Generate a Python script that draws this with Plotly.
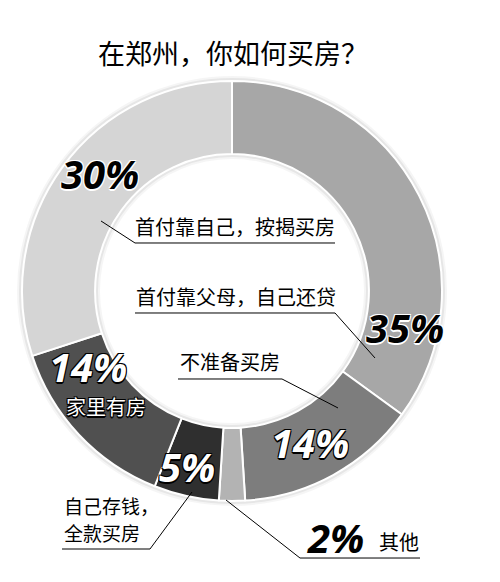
import plotly.graph_objects as go

# data, clockwise from 12 o'clock
categories = ['首付靠父母，自己还贷', '不准备买房', '其他', '自己存钱，全款买房',
              '家里有房', '首付靠自己，按揭买房']
shares = [35, 14, 2, 5, 14, 30]
pct_labels = ['35%', '14%', '2%', '5%', '14%', '30%']

slice_colors = ['#a7a7a7', '#7d7d7d', '#b3b3b3', '#2f2f2f', '#505050', '#d5d5d5']

W, H = 500, 582


def px(x, y):
    # pixel position -> paper coords
    return x / W, 1 - y / H


fig = go.Figure()

# soft shadow ring behind the donut
for grow, alpha in [(5, 0.04), (3, 0.06)]:
    fig.add_trace(go.Pie(
        values=[1], hole=(137 - grow) / (210 + grow), sort=False, showlegend=False,
        marker=dict(colors=[f'rgba(0,0,0,{alpha})'], line=dict(width=0)),
        textinfo='none', hoverinfo='skip',
        domain=dict(x=[(22 - grow) / W, (442 + grow) / W],
                    y=[1 - (501 + grow) / H, 1 - (81 - grow) / H]),
    ))

fig.add_trace(go.Pie(
    labels=categories,
    values=shares,
    sort=False,
    direction='clockwise',
    rotation=0,
    hole=0.652,
    textinfo='none',
    showlegend=False,
    marker=dict(colors=slice_colors, line=dict(color='white', width=2)),
    domain=dict(x=[22 / W, 442 / W], y=[1 - 501 / H, 1 - 81 / H]),
))

black_outline = '-1px -1px 0 #000, 1px -1px 0 #000, -1px 1px 0 #000, 1px 1px 0 #000, 0 2px 0 #000'
white_outline = '-1px -1px 0 #fff, 1px -1px 0 #fff, -1px 1px 0 #fff, 1px 1px 0 #fff, 0 2px 0 #fff'

annos = []


def add_text(txt, x, y, size, color='black', shadow='none', italic=False, bold=False,
             xanchor='center'):
    ax, ay = px(x, y)
    annos.append(dict(
        text=txt, x=ax, y=ay, xref='paper', yref='paper', showarrow=False,
        xanchor=xanchor, yanchor='middle',
        font=dict(family='Open Sans, Noto Sans CJK SC' if italic else 'Noto Sans CJK SC',
                  size=size, color=color, shadow=shadow,
                  style='italic' if italic else 'normal',
                  weight='bold' if bold else 'normal'),
    ))


# title
add_text('在郑州，你如何买房？', 233, 52, 27)

# percentages
add_text(pct_labels[0], 405, 327, 40, 'black', white_outline, True, True)
add_text(pct_labels[1], 310, 442, 40, 'white', black_outline, True, True)
add_text(pct_labels[2], 335, 537, 40, 'black', 'none', True, True)
add_text(pct_labels[3], 187, 466, 40, 'white', black_outline, True, True)
add_text(pct_labels[4], 88, 366, 40, 'white', black_outline, True, True)
add_text(pct_labels[5], 100, 173, 40, 'black', white_outline, True, True)

# category labels
add_text(categories[5], 235, 227, 20)
add_text(categories[0], 236, 296, 20)
add_text(categories[1], 230, 361, 20)
add_text(categories[4], 106, 406, 20, 'white', black_outline)
add_text('自己存钱，', 62, 505, 19, xanchor='left')
add_text('全款买房', 62, 532, 19, xanchor='left')
add_text(categories[2], 377, 541, 20, xanchor='left')

# underlines and leader lines
lines = [
    [(101, 221), (135, 243), (335, 243)],
    [(135, 313), (335, 313), (375, 358)],
    [(178, 379), (282, 379), (338, 408)],
    [(62, 549), (150, 549), (192, 492)],
    [(226, 500), (300, 558), (420, 558)],
]
shapes = []
for pts in lines:
    path = ''
    for i, (x, y) in enumerate(pts):
        ax, ay = px(x, y)
        path += ('M' if i == 0 else 'L') + f' {ax:.4f},{ay:.4f} '
    shapes.append(dict(type='path', path=path, xref='paper', yref='paper',
                       line=dict(color='black', width=1)))

fig.update_layout(
    width=W, height=H,
    margin=dict(l=0, r=0, t=0, b=0),
    paper_bgcolor='white',
    plot_bgcolor='white',
    annotations=annos,
    shapes=shapes,
)

fig.write_html("out.html", config={'displayModeBar': False},
               post_script="document.body.style.margin = '0';")
